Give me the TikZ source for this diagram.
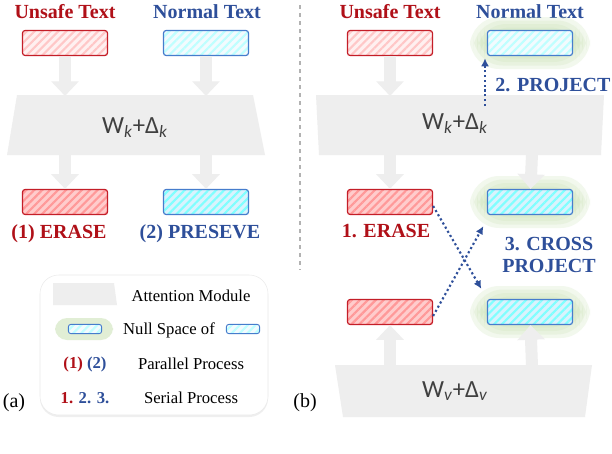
\documentclass[tikz,border=0pt]{standalone}
\usepackage{fontspec}
\setmainfont{Liberation Serif}
\newfontfamily\wfont{Carlito}
\usetikzlibrary{arrows.meta,patterns.meta,shadows}
\definecolor{ured}{RGB}{176,16,24}
\definecolor{nblue}{RGB}{46,79,154}
\definecolor{rbord}{RGB}{196,30,40}
\definecolor{bbord}{RGB}{70,125,205}
\definecolor{modgray}{RGB}{238,238,238}
\definecolor{glow}{RGB}{205,228,185}
\begin{document}
\begin{tikzpicture}[x=0.75pt,y=-0.75pt,
  box/.style={draw,rounded corners=2pt,line width=0.9pt,minimum width=63.75pt,minimum height=18.75pt,inner sep=0pt},
  redbox/.style={box,draw=rbord,preaction={fill=red!6},pattern={Lines[angle=45,distance=4.2pt,line width=1.6pt]},pattern color=red!22},
  redbox2/.style={box,draw=rbord,preaction={fill=red!20},pattern={Lines[angle=45,distance=4.2pt,line width=1.6pt]},pattern color=red!40},
  bluebox/.style={box,draw=bbord,preaction={fill=cyan!5},pattern={Lines[angle=45,distance=4.2pt,line width=1.6pt]},pattern color=cyan!25},
  bluebox2/.style={box,draw=bbord,preaction={fill=cyan!15},pattern={Lines[angle=45,distance=4.2pt,line width=1.6pt]},pattern color=cyan!50},
  smallbox/.style={bluebox,minimum width=25pt,minimum height=7pt,line width=0.7pt},
  title/.style={font=\bfseries\fontsize{15}{17}\selectfont},
  lbl/.style={font=\bfseries\fontsize{15}{16}\selectfont,align=center},
  gray arrow/.style={draw=modgray,line width=9pt,-{Triangle[length=11pt,width=20pt]}},
  proj/.style={draw=nblue,line width=1.6pt,dotted,-{Latex[length=6pt,width=6pt]},shorten >=1pt},
  module/.style={fill=modgray},
  wtext/.style={font=\wfont\fontsize{18.5}{20}\selectfont,text=black!75},
  legtext/.style={font=\fontsize{12.5}{14}\selectfont},
]
\useasboundingbox (0,0) rectangle (612,454);
\fill[white] (0,0) rectangle (612,454);
\newcommand{\glowat}[2]{%
  \foreach \s in {0,7,14,21,28}
    \fill[glow,opacity=0.25,rounded corners=22pt] (#1-46-\s/2,#2-12-\s/2) rectangle (#1+46+\s/2,#2+12+\s/2);}

% ---------- (a) ----------
\node[title,text=ured] (ua) at (65,12) {Unsafe Text};
\node[title,text=nblue] (na) at (207,12) {Normal Text};
\node[redbox] (ra1) at (65,43) {};
\node[bluebox] (ba1) at (206,43) {};
\fill[module] (17,95) -- (253,95) -- (265,155) -- (7,155) -- cycle;
\node[wtext] (wka) at (135,128) {W\textsubscript{\textit{k}}+Δ\textsubscript{\textit{k}}};
\coordinate (ta1) at (65,96); \coordinate (ta2) at (206,96);
\coordinate (sa1) at (65,154); \coordinate (sa2) at (206,154);
\node[redbox2] (ra2) at (65,202) {};
\node[bluebox2] (ba2) at (206,202) {};
\draw[gray arrow] (ra1) -- (ta1);
\draw[gray arrow] (ba1) -- (ta2);
\draw[gray arrow] (sa1) -- (ra2);
\draw[gray arrow] (sa2) -- (ba2);
\node[lbl,text=ured] (era) at (59,234) {(1) ERASE};
\node[lbl,text=nblue] (pre) at (200,234) {(2) PRESEVE};

\draw[gray!60,dashed,line width=0.8pt] (300,5) -- (300,270);

% legend
\node[draw=black!8,fill=white,rounded corners=14pt,drop shadow={opacity=0.12,shadow xshift=0pt,shadow yshift=-1.5pt},minimum width=171pt,minimum height=105pt] (leg) at (154,345) {};
\fill[module] (53,283) -- (114,283) -- (117,305) -- (53,305) -- cycle;
\node[legtext] (l1) at (191,296) {Attention Module};
\fill[glow,opacity=0.6,rounded corners=9pt] (55,318) rectangle (113,340);
\node[smallbox] (lb1) at (85,329) {};
\node[legtext] (l2) at (169,330) {Null Space of};
\node[smallbox] (lb2) at (243,329) {};
\node[legtext,font=\bfseries\fontsize{12.5}{14}\selectfont] (l3a) at (85,364) {\textcolor{ured}{(1)} \textcolor{nblue}{(2)}};
\node[legtext] (l3) at (191,364) {Parallel Process};
\node[legtext,font=\bfseries\fontsize{12.5}{14}\selectfont] (l4a) at (85,398) {\textcolor{ured}{1.} \textcolor{nblue}{2. 3.}};
\node[legtext] (l4) at (191,398) {Serial Process};
\node[font=\fontsize{15}{17}\selectfont] (a) at (14,403) {(a)};

% ---------- (b) ----------
\node[title,text=ured] (ub) at (390,12) {Unsafe Text};
\node[title,text=nblue] (nb) at (530,12) {Normal Text};
\glowat{530}{43}
\node[redbox] (rb1) at (390,43) {};
\node[bluebox] (bb1) at (530,43) {};
\fill[module] (316,95) -- (604,95) -- (601,155) -- (319,155) -- cycle;
\node[wtext] (wkb) at (455,124) {W\textsubscript{\textit{k}}+Δ\textsubscript{\textit{k}}};
\coordinate (tb1) at (390,96); \coordinate (pb) at (485,106);
\coordinate (sb1) at (390,154); \coordinate (sb2) at (532,154);
\draw[gray arrow] (rb1) -- (tb1);
\draw[proj] (pb) -- (485,57);
\node[lbl,text=nblue] (pj) at (553,85) {2. PROJECT};

\glowat{530}{202}
\glowat{530}{312}
\node[redbox2] (rb2) at (390,202) {};
\node[bluebox2] (bb2) at (530,202) {};
\node[redbox2] (rb3) at (390,312) {};
\node[bluebox2] (bb3) at (530,312) {};
\draw[gray arrow] (sb1) -- (rb2);
\draw[gray arrow] (sb2) -- (bb2);
\node[lbl,text=ured] (erb) at (386,231) {1. ERASE};
\node[lbl,text=nblue] (cp) at (549,255) {3. CROSS\\PROJECT};
\coordinate (x1) at (482,290); \coordinate (x2) at (484,225);
\draw[proj] (rb2.east) ++(0,4) -- (x1);
\draw[proj] (rb3.east) ++(0,4) -- (x2);

\fill[module] (335,365) -- (592,365) -- (585,417) -- (343,417) -- cycle;
\node[wtext] (wvb) at (455,391) {W\textsubscript{\textit{v}}+Δ\textsubscript{\textit{v}}};
\coordinate (vb1) at (390,366); \coordinate (vb2) at (532,366);
\draw[gray arrow] (vb1) -- (rb3);
\draw[gray arrow] (vb2) -- (bb3);
\node[font=\fontsize{15}{17}\selectfont] (b) at (305,403) {(b)};
\end{tikzpicture}
\end{document}
